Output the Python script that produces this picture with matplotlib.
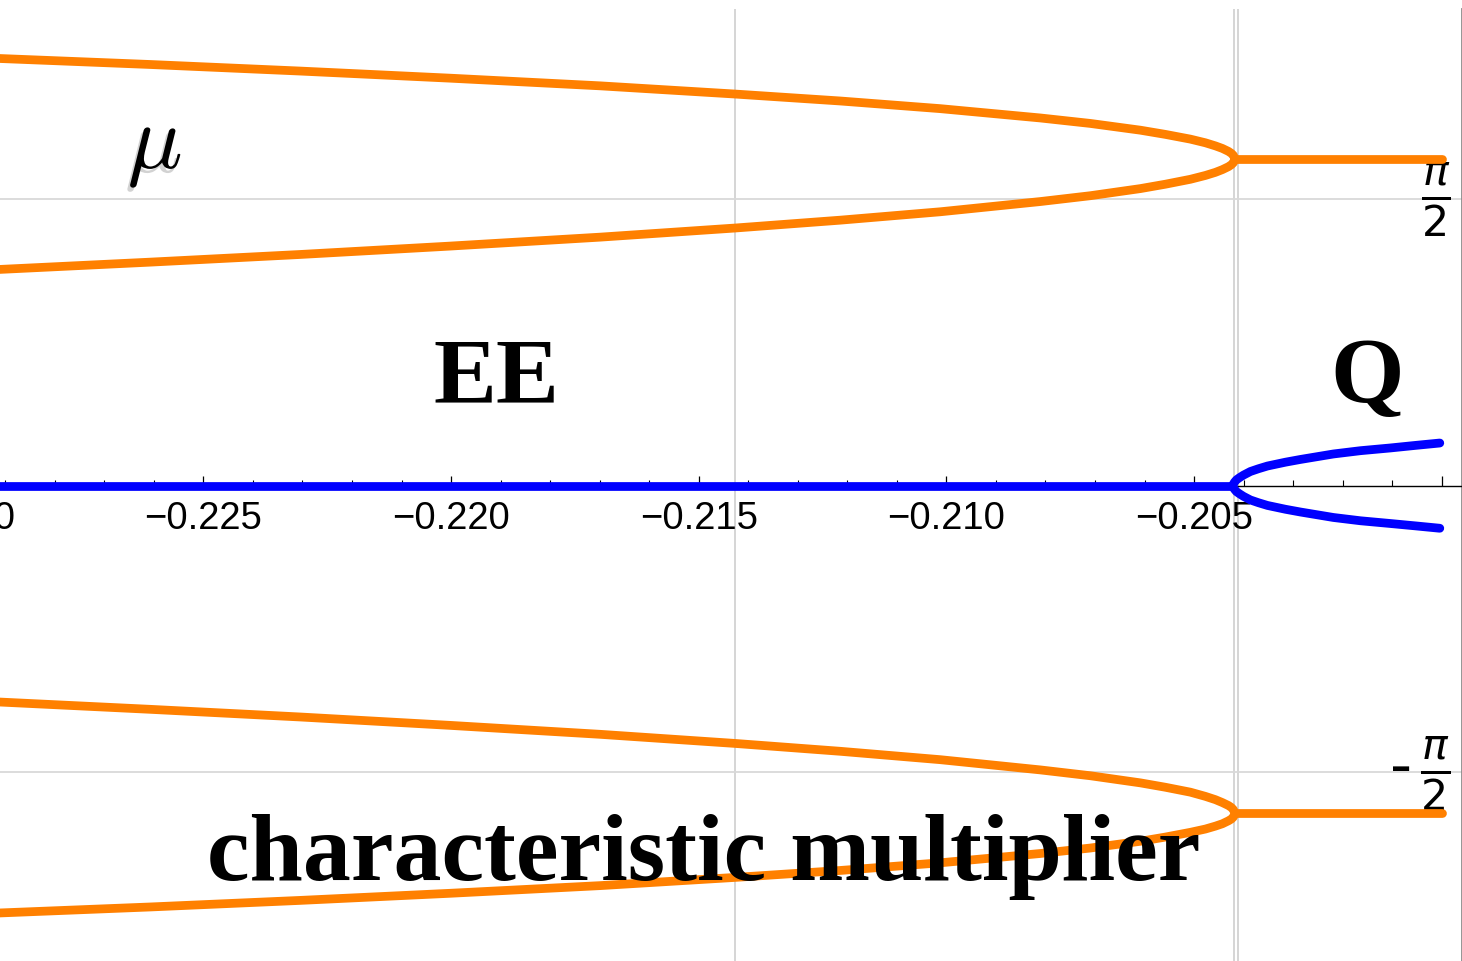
import numpy as np
import matplotlib
matplotlib.use("Agg")
import matplotlib.pyplot as plt
from matplotlib.ticker import MultipleLocator, FixedLocator
import matplotlib.patheffects as pe

# parameter values
x_branch = [-0.2295, -0.226076, -0.223047, -0.220018, -0.216989, -0.214263,
            -0.212143, -0.210123, -0.208104, -0.207094, -0.206084, -0.205580,
            -0.205075, -0.204772, -0.204570, -0.204429, -0.204307, -0.204247,
            -0.204206, -0.204176]
# upper pair of multipliers (arg) before the bifurcation
mu_up_top = [2.345, 2.308, 2.272, 2.233, 2.191, 2.146, 2.108, 2.066, 2.015, 1.985,
             1.948, 1.925, 1.899, 1.879, 1.862, 1.848, 1.832, 1.821, 1.810, 1.790]
mu_up_bot = [1.180, 1.225, 1.267, 1.313, 1.362, 1.412, 1.455, 1.501, 1.557, 1.589,
             1.628, 1.652, 1.679, 1.700, 1.717, 1.732, 1.748, 1.759, 1.770, 1.790]
# lower pair
mu_lo_top = [-1.180, -1.225, -1.267, -1.313, -1.362, -1.412, -1.455, -1.501, -1.557, -1.589,
             -1.628, -1.652, -1.679, -1.702, -1.720, -1.736, -1.752, -1.763, -1.775, -1.795]
mu_lo_bot = [-2.345, -2.308, -2.272, -2.233, -2.191, -2.146, -2.108, -2.066, -2.015, -1.985,
             -1.948, -1.925, -1.899, -1.881, -1.865, -1.852, -1.836, -1.826, -1.815, -1.795]

# after the bifurcation the orange pair is flat
x_flat = [-0.204176, -0.2000]
mu_flat_up = [1.790, 1.790]
mu_flat_lo = [-1.795, -1.795]

# blue multiplier: zero, then splits
x_zero = [-0.2300, -0.204227]
y_zero = [0.0, 0.0]
x_split = [-0.204227, -0.204186, -0.204146, -0.204085, -0.204004, -0.203863, -0.203701,
           -0.203519, -0.203155, -0.202853, -0.202187, -0.201641, -0.201036, -0.200531,
           -0.200040]
y_split_up = [0.0, 0.019, 0.032, 0.044, 0.058, 0.078, 0.093, 0.108, 0.129, 0.144,
              0.174, 0.192, 0.207, 0.221, 0.234]
y_split_lo = [0.0, -0.019, -0.032, -0.044, -0.058, -0.078, -0.093, -0.108, -0.129, -0.144,
              -0.174, -0.192, -0.207, -0.220, -0.233]

grid_x = [-0.214277, -0.204192, -0.204105]
major_x = [-0.225, -0.220, -0.215, -0.210, -0.205, -0.200]
major_lbl = ["\u22120.225", "\u22120.220", "\u22120.215", "\u22120.210", "\u22120.205", ""]
yticks = [-np.pi / 2, np.pi / 2]
ytick_lbl = [r"-$\,\frac{\pi}{2}$", r"$\frac{\pi}{2}$"]

ORANGE = "#ff8000"
BLUE = "#0000ff"

fig = plt.figure(figsize=(14.62, 9.62), dpi=100)
ax = fig.add_axes([0, 0, 1461.5 / 1462, 952 / 962])
ax.set_xlim(-0.229105, -0.199602)
ax.set_ylim(-2.604, 2.612)

# grid
for gx in grid_x:
    ax.axvline(gx, color="#d2d2d2", lw=1.3, zorder=1)
for gy in yticks:
    ax.axhline(gy, color="#d9d9d9", lw=1.3, zorder=1)

kw = dict(lw=6.3, solid_capstyle="round", solid_joinstyle="round", zorder=3)
ax.plot(x_branch, mu_up_top, color=ORANGE, **kw)
ax.plot(x_branch, mu_up_bot, color=ORANGE, **kw)
ax.plot(x_flat, mu_flat_up, color=ORANGE, **kw)
ax.plot(x_branch, mu_lo_top, color=ORANGE, **kw)
ax.plot(x_branch, mu_lo_bot, color=ORANGE, **kw)
ax.plot(x_flat, mu_flat_lo, color=ORANGE, **kw)

ax.plot(x_zero, y_zero, color=BLUE, **kw)
ax.plot(x_split, y_split_up, color=BLUE, **kw)
ax.plot(x_split, y_split_lo, color=BLUE, **kw)

# axes styling
for s in ["top", "left"]:
    ax.spines[s].set_visible(False)
ax.spines["right"].set_color("#8c8c8c")
ax.spines["right"].set_linewidth(1.3)
ax.spines["bottom"].set_position(("data", 0))
ax.spines["bottom"].set_linewidth(1.0)

ax.xaxis.set_major_locator(FixedLocator(major_x))
ax.set_xticklabels(major_lbl)
ax.xaxis.set_minor_locator(MultipleLocator(0.001))
ax.tick_params(axis="x", which="major", direction="in", length=7.5, width=0.9,
               pad=10, labelsize=27.5)
ax.tick_params(axis="x", which="minor", direction="in", length=4, width=0.8)
for t in ax.get_xticklabels():
    t.set_fontfamily("Liberation Sans")

# clipped label of -0.230 at the left edge
ax.annotate("\u22120.230", xy=(-0.230, 0), xytext=(0, -10), textcoords="offset points",
            ha="center", va="top", fontsize=27.5, family="Liberation Sans",
            annotation_clip=False)

ax.yaxis.tick_right()
ax.set_yticks(yticks)
ax.set_yticklabels(ytick_lbl)
ax.tick_params(axis="y", length=0, pad=-8, labelsize=44)
for t in ax.get_yticklabels():
    t.set_ha("right")
    t.set_va("center")

# annotations
ax.text(0.106, 0.857, r"$\mu$", transform=ax.transAxes, fontsize=66,
        math_fontfamily="cm", ha="center", va="center", zorder=6,
        path_effects=[pe.SimplePatchShadow(offset=(-2, -3), shadow_rgbFace="0.5", alpha=0.35),
                      pe.Normal()])
serif = dict(family="Liberation Serif", weight="bold",
             transform=ax.transAxes, va="baseline", ha="center", zorder=6)
ax.text(0.3395, 0.588, "EE", fontsize=68, **serif)
ax.text(0.9357, 0.588, "Q", fontsize=68, **serif)
ax.text(0.4815, 0.0861, "characteristic multiplier", fontsize=69, **serif)

fig.savefig("out.png", dpi=100)
